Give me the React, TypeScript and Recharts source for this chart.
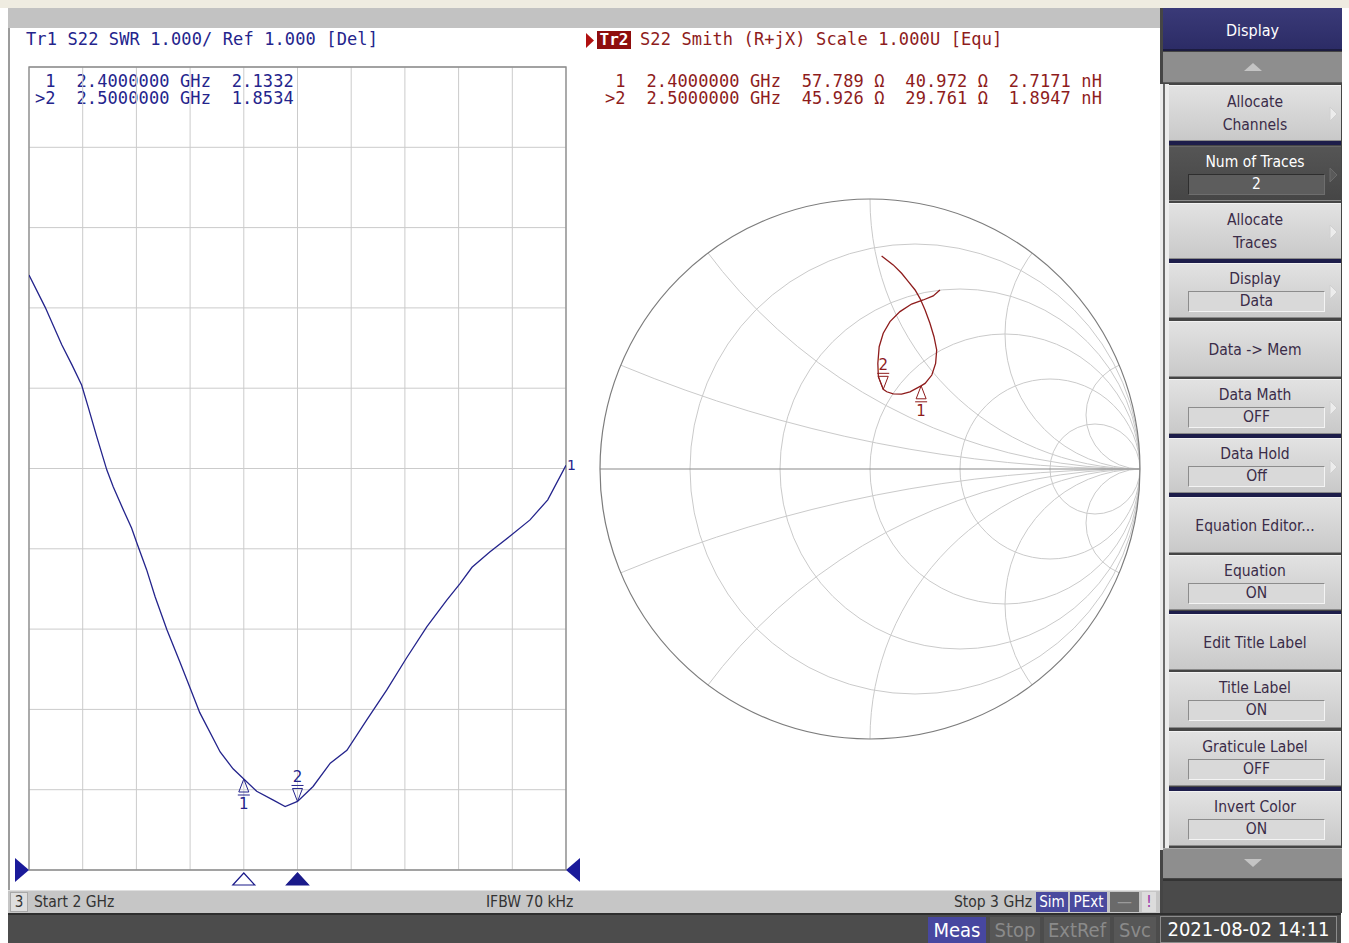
import React from 'react';
import {
  LineChart, Line, XAxis, YAxis, CartesianGrid, ReferenceDot, ReferenceArea,
  ScatterChart, Scatter,
} from 'recharts';

// ---------------- DATA ----------------
// Trace 1: S22 SWR vs frequency (GHz)
const swrFreqGHz = [
  2.000, 2.030, 2.061, 2.080, 2.098, 2.110, 2.126, 2.145, 2.157, 2.176, 2.191, 2.201,
  2.219, 2.235, 2.257, 2.281, 2.294, 2.318, 2.356, 2.380, 2.400, 2.424, 2.455, 2.477,
  2.500, 2.529, 2.561, 2.592, 2.629, 2.666, 2.703, 2.741, 2.778, 2.803, 2.825, 2.858,
  2.896, 2.933, 2.966, 3.000,
];
const swrValues = [
  8.41, 8.01, 7.54, 7.29, 7.04, 6.77, 6.40, 5.98, 5.77, 5.48, 5.26, 5.07,
  4.74, 4.40, 3.99, 3.59, 3.37, 2.96, 2.47, 2.26, 2.1332, 1.98, 1.87, 1.79,
  1.8534, 2.04, 2.33, 2.49, 2.87, 3.24, 3.64, 4.03, 4.36, 4.57, 4.77, 4.96,
  5.16, 5.36, 5.61, 6.04,
];
const swrTicksX = [2.0, 2.1, 2.2, 2.3, 2.4, 2.5, 2.6, 2.7, 2.8, 2.9, 3.0];
const swrTicksY = [1, 2, 3, 4, 5, 6, 7, 8, 9, 10, 11];

// Markers
const markerNames = ['1', '2'];
const markerFreqGHz = [2.4, 2.5];
const markerSwr = [2.1332, 1.8534];
const markerResOhm = [57.789, 45.926];
const markerReactOhm = [40.972, 29.761];
const markerInductance = ['2.7171', '1.8947'];
const Z0 = 50;

// Trace 2: S22 on Smith chart (reflection coefficient, real / imaginary), 2 -> 3 GHz
const smithRe = [
  0.043, 0.086, 0.117, 0.142, 0.167, 0.185, 0.204, 0.222, 0.237, 0.247, 0.243, 0.229,
  0.204, 0.189, 0.148, 0.117, 0.086, 0.062, 0.049, 0.031, 0.029, 0.034, 0.049, 0.074,
  0.111, 0.154, 0.197, 0.234, 0.259,
];
const smithIm = [
  0.789, 0.756, 0.725, 0.694, 0.663, 0.632, 0.589, 0.540, 0.490, 0.441, 0.391, 0.348,
  0.317, 0.308, 0.286, 0.277, 0.278, 0.286, 0.295, 0.342, 0.391, 0.453, 0.503, 0.546,
  0.583, 0.611, 0.626, 0.641, 0.663,
];

// Smith graticule values
const rCircles = [0.2, 0.5, 1, 2, 5];
const xArcs = [0.2, 0.5, 1, 2, 5];

// Softkey menu
const menuLabels = [
  ['Allocate', 'Channels'], ['Num of Traces'], ['Allocate', 'Traces'], ['Display'],
  ['Data -> Mem'], ['Data Math'], ['Data Hold'], ['Equation Editor...'], ['Equation'],
  ['Edit Title Label'], ['Title Label'], ['Graticule Label'], ['Invert Color'],
];
const menuValues = [null, '2', null, 'Data', null, 'OFF', 'Off', null, 'ON', null, 'ON', 'OFF', 'ON'];
const menuArrows = [true, true, true, true, false, true, true, false, false, false, false, false, false];

// ---------------- derived tables ----------------
const swrData = swrFreqGHz.map((f, i) => ({ f, swr: swrValues[i] }));
const smithData = smithRe.map((re, i) => ({ re, im: smithIm[i] }));
const gammaOf = (r: number, x: number) => {
  const a = r / Z0, b = x / Z0;
  const nr = a - 1, ni = b, dr = a + 1, di = b;
  const d = dr * dr + di * di;
  return { re: (nr * dr + ni * di) / d, im: (ni * dr - nr * di) / d };
};
const smithMarkers = markerResOhm.map((r, i) => gammaOf(r, markerReactOhm[i]));

const leftMarkerText = markerNames.map((m, i) =>
  `${i === 1 ? '>' : ' '}${m}  ${markerFreqGHz[i].toFixed(7)} GHz  ${markerSwr[i].toFixed(4)}`).join('\n');
const rightMarkerText = markerNames.map((m, i) =>
  `${i === 1 ? '>' : ' '}${m}  ${markerFreqGHz[i].toFixed(7)} GHz  ${markerResOhm[i].toFixed(3)} Ω  ${markerReactOhm[i].toFixed(3)} Ω  ${markerInductance[i]} nH`).join('\n');

// ---------------- styles ----------------
const MONO = "'DejaVu Sans Mono', monospace";
const SANS = "'DejaVu Sans', 'Liberation Sans', sans-serif";
const BLUE = '#24248c';
const RED = '#8e1c1c';

const abs = (l: number, t: number, w: number, h: number, extra: any = {}) => ({
  position: 'absolute' as const, left: l, top: t, width: w, height: h, ...extra,
});

// ---------------- chart shapes ----------------
const markerShape = (color: string, label: string, up: boolean) => (p: any) => {
  const { cx, cy } = p;
  if (up) {
    return (
      <g>
        <path d={`M${cx},${cy} L${cx - 5},${cy + 13} L${cx + 5},${cy + 13} Z M${cx - 6},${cy + 16} L${cx + 6},${cy + 16}`}
          fill="none" stroke={color} strokeWidth={1} />
        <text x={cx} y={cy + 30} textAnchor="middle" fill={color} fontSize={15} fontFamily={SANS}>{label}</text>
      </g>
    );
  }
  return (
    <g>
      <path d={`M${cx},${cy} L${cx - 5},${cy - 13} L${cx + 5},${cy - 13} Z M${cx - 6},${cy - 16} L${cx + 6},${cy - 16}`}
        fill="none" stroke={color} strokeWidth={1} />
      <text x={cx} y={cy - 19} textAnchor="middle" fill={color} fontSize={15} fontFamily={SANS}>{label}</text>
    </g>
  );
};

const stimTri = (color: string, filled: boolean, offset: number) => (p: any) => {
  const { cx, cy } = p;
  const t = cy + offset;
  return (
    <path d={`M${cx},${t} L${cx - 11},${t + 12} L${cx + 11},${t + 12} Z`}
      fill={filled ? color : '#fff'} stroke={color} strokeWidth={1.2} />
  );
};

const refTri = (dir: number) => (p: any) => {
  const { cx, cy } = p;
  return <path d={`M${cx - 14 * dir},${cy - 12} L${cx},${cy} L${cx - 14 * dir},${cy + 12} Z`} fill="#1a1a9a" />;
};

const SmithGrid = (p: any) => {
  const { x, y, width, height } = p;
  const R = width / 2;
  const cx = x + R;
  const cy = y + height / 2;
  return (
    <g>
      <defs>
        <clipPath id="smith-clip"><circle cx={cx} cy={cy} r={R} /></clipPath>
      </defs>
      <g clipPath="url(#smith-clip)" fill="none" stroke="#cacaca" strokeWidth={1}>
        {rCircles.map((r) => <circle key={'r' + r} cx={cx + (R * r) / (1 + r)} cy={cy} r={R / (1 + r)} />)}
        {xArcs.map((v) => <circle key={'p' + v} cx={cx + R} cy={cy - R / v} r={R / v} />)}
        {xArcs.map((v) => <circle key={'n' + v} cx={cx + R} cy={cy + R / v} r={R / v} />)}
      </g>
      <line x1={cx - R} x2={cx + R} y1={cy} y2={cy} stroke="#8a8a8a" strokeWidth={1.2} />
      <circle cx={cx} cy={cy} r={R} fill="none" stroke="#7c7c7c" strokeWidth={1.2} />
    </g>
  );
};

// ---------------- softkey ----------------
const Softkey = ({ i, top, h }: { i: number; top: number; h: number }) => {
  const dark = i === 1;
  const lines = menuLabels[i];
  const value = menuValues[i];
  const fg = dark ? '#ffffff' : '#3a2c48';
  return (
    <div style={abs(1169, top, 172, h, {
      background: dark ? 'linear-gradient(#555,#464646)' : 'linear-gradient(#e2e2e2,#c9c9c9)',
      boxSizing: 'border-box', borderTop: '1px solid ' + (dark ? '#666' : '#f2f2f2'),
      borderBottom: '1px solid #8a8a8a', fontFamily: SANS, fontStretch: 'condensed', fontSize: 15.5, color: fg,
    })}>
      {value === null && lines.length === 2 && (
        <>
          <div style={abs(0, 6, 172, 20, { textAlign: 'center', lineHeight: '20px' })}>{lines[0]}</div>
          <div style={abs(0, 29, 172, 20, { textAlign: 'center', lineHeight: '20px' })}>{lines[1]}</div>
        </>
      )}
      {value === null && lines.length === 1 && (
        <div style={abs(0, 0, 172, h, { textAlign: 'center', lineHeight: h + 'px' })}>{lines[0]}</div>
      )}
      {value !== null && (
        <>
          <div style={abs(0, 5, 172, 20, { textAlign: 'center', lineHeight: '20px' })}>{lines[0]}</div>
          <div style={abs(19, 27, 137, 21, {
            boxSizing: 'border-box', background: dark ? '#5d5d5d' : '#d9d9d9',
            borderTop: '1px solid ' + (dark ? '#2e2e2e' : '#8c8c8c'), borderLeft: '1px solid ' + (dark ? '#2e2e2e' : '#8c8c8c'),
            borderBottom: '1px solid ' + (dark ? '#6e6e6e' : '#f4f4f4'), borderRight: '1px solid ' + (dark ? '#6e6e6e' : '#f4f4f4'),
            textAlign: 'center', lineHeight: '19px',
          })}>{value}</div>
        </>
      )}
      {menuArrows[i] && (
        <svg style={abs(160, h / 2 - 8, 10, 16)} width={10} height={16}>
          <path d="M1,1 L8,8 L1,15 Z" fill={dark ? '#5a5a5a' : '#ececec'} stroke={dark ? '#6a6a6a' : '#d0d0d0'} />
        </svg>
      )}
    </div>
  );
};

const keyTops = [85, 146, 203, 263, 321, 379, 438, 497, 555, 614, 672, 731, 791];
const keyHeights = [56, 55, 56, 55, 56, 55, 55, 56, 55, 56, 56, 55, 55];
const navySeps = [141, 259, 434, 493, 611, 787];

const monoLine = (color: string) => ({
  fontFamily: MONO, fontSize: 17, letterSpacing: 0.12, color, whiteSpace: 'pre', lineHeight: '17px',
});

// ---------------- App ----------------
export default function App() {
  return (
    <div style={abs(0, 0, 1349, 943, { background: '#ffffff', overflow: 'hidden', fontFamily: SANS })}>
      {/* top strips */}
      <div style={abs(0, 0, 1349, 8, { background: '#efece1' })} />
      <div style={abs(8, 8, 1152, 20, { background: '#c2c2c2' })} />
      {/* main white area border */}
      <div style={abs(8, 28, 2, 884, { background: '#9c9c9c' })} />

      {/* Trace 1 header */}
      <div style={abs(26, 31, 400, 17, monoLine(BLUE))}>Tr1 S22 SWR 1.000/ Ref 1.000 [Del]</div>
      <div style={abs(35, 73, 280, 34, monoLine(BLUE))}>{leftMarkerText}</div>

      {/* Trace 2 header */}
      <svg style={abs(585, 33, 10, 15)} width={10} height={15}><path d="M1,0 L9,7.5 L1,15 Z" fill="#b01010" /></svg>
      <div style={abs(597, 31, 34, 18, { background: '#8e0e0e', color: '#fff', fontFamily: MONO, fontWeight: 'bold', fontSize: 16, lineHeight: '18px', textAlign: 'center' })}>Tr2</div>
      <div style={abs(640, 31, 400, 17, monoLine(RED))}>S22 Smith (R+jX) Scale 1.000U [Equ]</div>
      <div style={abs(605, 73, 520, 34, monoLine(RED))}>{rightMarkerText}</div>

      {/* Left: SWR chart */}
      <div style={abs(8, 28, 577, 862)}>
        <LineChart width={577} height={862} data={swrData} margin={{ top: 39, right: 19, bottom: 20, left: 21 }}>
          <CartesianGrid stroke="#cbcbcb" strokeWidth={1} />
          <XAxis type="number" dataKey="f" domain={[2, 3]} ticks={swrTicksX} hide allowDataOverflow />
          <YAxis type="number" domain={[1, 11]} ticks={swrTicksY} hide allowDataOverflow />
          <ReferenceArea x1={2} x2={3} y1={1} y2={11} fill="none" fillOpacity={0} stroke="#8c8c8c" strokeWidth={1.3} ifOverflow="visible" />
          <Line type="linear" dataKey="swr" stroke={BLUE} strokeWidth={1.3} dot={false} isAnimationActive={false} />
          <ReferenceDot x={2} y={1} r={0} ifOverflow="visible" shape={refTri(1)} />
          <ReferenceDot x={3} y={1} r={0} ifOverflow="visible" shape={refTri(-1)} />
          <ReferenceDot x={swrFreqGHz[swrFreqGHz.length - 1]} y={swrValues[swrValues.length - 1]} r={0} ifOverflow="visible"
            shape={(p: any) => <text x={p.cx + 1} y={p.cy + 5} fill={BLUE} fontSize={14} fontFamily={SANS}>1</text>} />
          <ReferenceDot x={markerFreqGHz[0]} y={markerSwr[0]} r={0} ifOverflow="visible" shape={markerShape(BLUE, '1', true)} />
          <ReferenceDot x={markerFreqGHz[1]} y={markerSwr[1]} r={0} ifOverflow="visible" shape={markerShape(BLUE, '2', false)} />
          <ReferenceDot x={markerFreqGHz[0]} y={1} r={0} ifOverflow="visible" shape={stimTri('#1a1a8a', false, 3)} />
          <ReferenceDot x={markerFreqGHz[1]} y={1} r={0} ifOverflow="visible" shape={stimTri('#1a1a8a', true, 3)} />
        </LineChart>
      </div>

      {/* Right: Smith chart */}
      <div style={abs(585, 28, 575, 862)}>
        <ScatterChart width={575} height={862} margin={{ top: 171, right: 20, bottom: 151, left: 15 }}>
          <XAxis xAxisId="g" type="number" dataKey="re" domain={[-1, 1]} hide allowDataOverflow />
          <XAxis xAxisId="f" type="number" domain={[2, 3]} hide allowDataOverflow />
          <YAxis type="number" dataKey="im" domain={[-1, 1]} hide allowDataOverflow />
          <ReferenceArea xAxisId="g" x1={-1} x2={1} y1={-1} y2={1} ifOverflow="visible" shape={SmithGrid} />
          <Scatter xAxisId="g" data={smithData} line={{ stroke: RED, strokeWidth: 1.3 }} shape={() => <g />} isAnimationActive={false} />
          <ReferenceDot xAxisId="g" x={smithMarkers[0].re} y={smithMarkers[0].im} r={0} ifOverflow="visible" shape={markerShape(RED, '1', true)} />
          <ReferenceDot xAxisId="g" x={smithMarkers[1].re} y={smithMarkers[1].im} r={0} ifOverflow="visible" shape={markerShape(RED, '2', false)} />
          <ReferenceDot xAxisId="f" x={markerFreqGHz[0]} y={-1} r={0} ifOverflow="visible" shape={stimTri('#9a1010', false, 134)} />
          <ReferenceDot xAxisId="f" x={markerFreqGHz[1]} y={-1} r={0} ifOverflow="visible" shape={stimTri('#9a1010', true, 134)} />
        </ScatterChart>
      </div>

      {/* status bar */}
      <div style={abs(8, 890, 1152, 23, { background: '#c6c6c6', borderTop: '1px solid #e0e0e0', boxSizing: 'border-box' })} />
      <div style={abs(10, 892, 18, 20, { background: '#dedede', border: '1px solid #a8a8a8', boxSizing: 'border-box', fontSize: 15, lineHeight: '18px', textAlign: 'center', color: '#333', fontStretch: 'condensed' })}>3</div>
      <div style={abs(34, 892, 120, 20, { fontSize: 15.5, lineHeight: '20px', color: '#333', fontStretch: 'condensed' })}>Start 2 GHz</div>
      <div style={abs(486, 892, 120, 20, { fontSize: 15.5, lineHeight: '20px', color: '#333', fontStretch: 'condensed' })}>IFBW 70 kHz</div>
      <div style={abs(900, 892, 132, 20, { fontSize: 15.5, lineHeight: '20px', color: '#333', textAlign: 'right', fontStretch: 'condensed' })}>Stop 3 GHz</div>
      <div style={abs(1036, 892, 32, 20, { background: '#4a4a9e', color: '#fff', fontSize: 15, lineHeight: '20px', textAlign: 'center', fontStretch: 'condensed' })}>Sim</div>
      <div style={abs(1070, 892, 37, 20, { background: '#4a4a9e', color: '#fff', fontSize: 15, lineHeight: '20px', textAlign: 'center', fontStretch: 'condensed' })}>PExt</div>
      <div style={abs(1110, 892, 29, 20, { background: '#6a6a6a', color: '#9a9a9a', fontSize: 15, lineHeight: '20px', textAlign: 'center' })}>—</div>
      <div style={abs(1142, 892, 14, 20, { background: '#dcdcdc', color: '#9a3aa8', fontSize: 15, lineHeight: '20px', textAlign: 'center' })}>!</div>

      {/* bottom bar */}
      <div style={abs(8, 913, 1333, 30, { background: '#4c4c4c', borderTop: '2px solid #2e2e2e', boxSizing: 'border-box' })} />
      <div style={abs(928, 917, 58, 26, { background: '#4747a0', color: '#fff', fontSize: 20, lineHeight: '26px', textAlign: 'center', fontStretch: 'condensed' })}>Meas</div>
      <div style={abs(990, 917, 50, 26, { background: '#575757', color: '#8a8a8a', fontSize: 20, lineHeight: '26px', textAlign: 'center', fontStretch: 'condensed' })}>Stop</div>
      <div style={abs(1044, 917, 66, 26, { background: '#575757', color: '#8a8a8a', fontSize: 20, lineHeight: '26px', textAlign: 'center', fontStretch: 'condensed' })}>ExtRef</div>
      <div style={abs(1114, 917, 42, 26, { background: '#575757', color: '#8a8a8a', fontSize: 20, lineHeight: '26px', textAlign: 'center', fontStretch: 'condensed' })}>Svc</div>
      <div style={abs(1160, 916, 177, 27, { background: '#474747', border: '1px solid #8c8c8c', boxSizing: 'border-box', color: '#fff', fontSize: 20, lineHeight: '25px', textAlign: 'center', fontStretch: 'condensed' })}>2021-08-02 14:11</div>

      {/* right softkey panel */}
      <div style={abs(1160, 8, 182, 905, { background: '#454545' })} />
      <div style={abs(1160, 84, 9, 766, { background: '#ececec' })} />
      <div style={abs(1163, 84, 2, 766, { background: '#6a6a6a' })} />
      <div style={abs(1163, 8, 179, 43, { background: 'linear-gradient(#3a3a78,#2c2c66)', borderBottom: '2px solid #1c1c40', boxSizing: 'border-box', color: '#fff', fontSize: 16, lineHeight: '45px', textAlign: 'center', fontStretch: 'condensed' })}>Display</div>
      <div style={abs(1163, 52, 179, 31, { background: '#8e8e8e', borderBottom: '1px solid #5a5a5a', boxSizing: 'border-box' })}>
        <svg style={abs(80, 10, 20, 10)} width={20} height={10}><path d="M1,9 L10,1 L19,9 Z" fill="#c4c4c4" /></svg>
      </div>
      {navySeps.map((y) => <div key={'s' + y} style={abs(1169, y, 172, 4, { background: '#1d1d4a' })} />)}
      {keyTops.map((t, i) => <Softkey key={'k' + i} i={i} top={t} h={keyHeights[i]} />)}
      <div style={abs(1163, 848, 179, 30, { background: '#8e8e8e', borderTop: '1px solid #a8a8a8', boxSizing: 'border-box' })}>
        <svg style={abs(80, 9, 20, 10)} width={20} height={10}><path d="M1,1 L10,9 L19,1 Z" fill="#c4c4c4" /></svg>
      </div>
      <div style={abs(1163, 879, 179, 34, { background: '#4a4a4a', borderTop: '2px solid #333', boxSizing: 'border-box' })} />
    </div>
  );
}
